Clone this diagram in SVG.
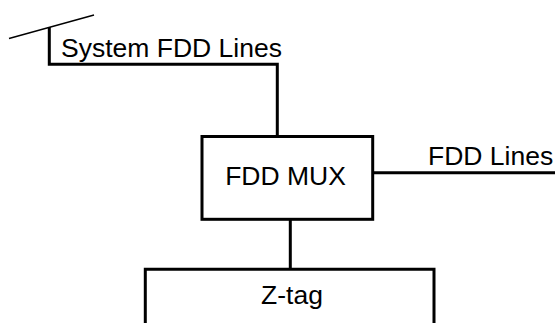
<svg xmlns="http://www.w3.org/2000/svg" width="555" height="323" viewBox="0 0 555 323">
<style>
.ln{fill:none;stroke:#000;stroke-width:3;stroke-linecap:butt;stroke-linejoin:miter}
.thin{fill:none;stroke:#000;stroke-width:1.3}
.box{fill:#fff;stroke:#000;stroke-width:3}
text{font-family:"Liberation Sans",Arial,sans-serif;font-size:26.5px;fill:#000}
</style>
<rect width="555" height="323" fill="#fff"/>
<g id="connectors">
<line class="thin" x1="9" y1="38.5" x2="94" y2="15"/>
<polyline class="ln" points="49.3,27 49.3,64.3 277.3,64.3 277.3,137"/>
<line class="ln" x1="372.7" y1="172.7" x2="555" y2="172.7"/>
<line class="ln" x1="290.3" y1="219" x2="290.3" y2="269"/>
</g>
<g id="system-fdd-lines-label">
<text x="61" y="57">System FDD Lines</text>
</g>
<g id="fdd-lines-label">
<text x="428" y="165">FDD Lines</text>
</g>
<g id="fdd-mux">
<rect class="box" x="202" y="136.5" width="170.7" height="82.8"/>
<text x="285.5" y="185" text-anchor="middle">FDD MUX</text>
</g>
<g id="z-tag">
<polyline class="ln" points="145.3,323 145.3,269.3 434,269.3 434,323"/>
<text x="292" y="304" text-anchor="middle">Z-tag</text>
</g>
</svg>
